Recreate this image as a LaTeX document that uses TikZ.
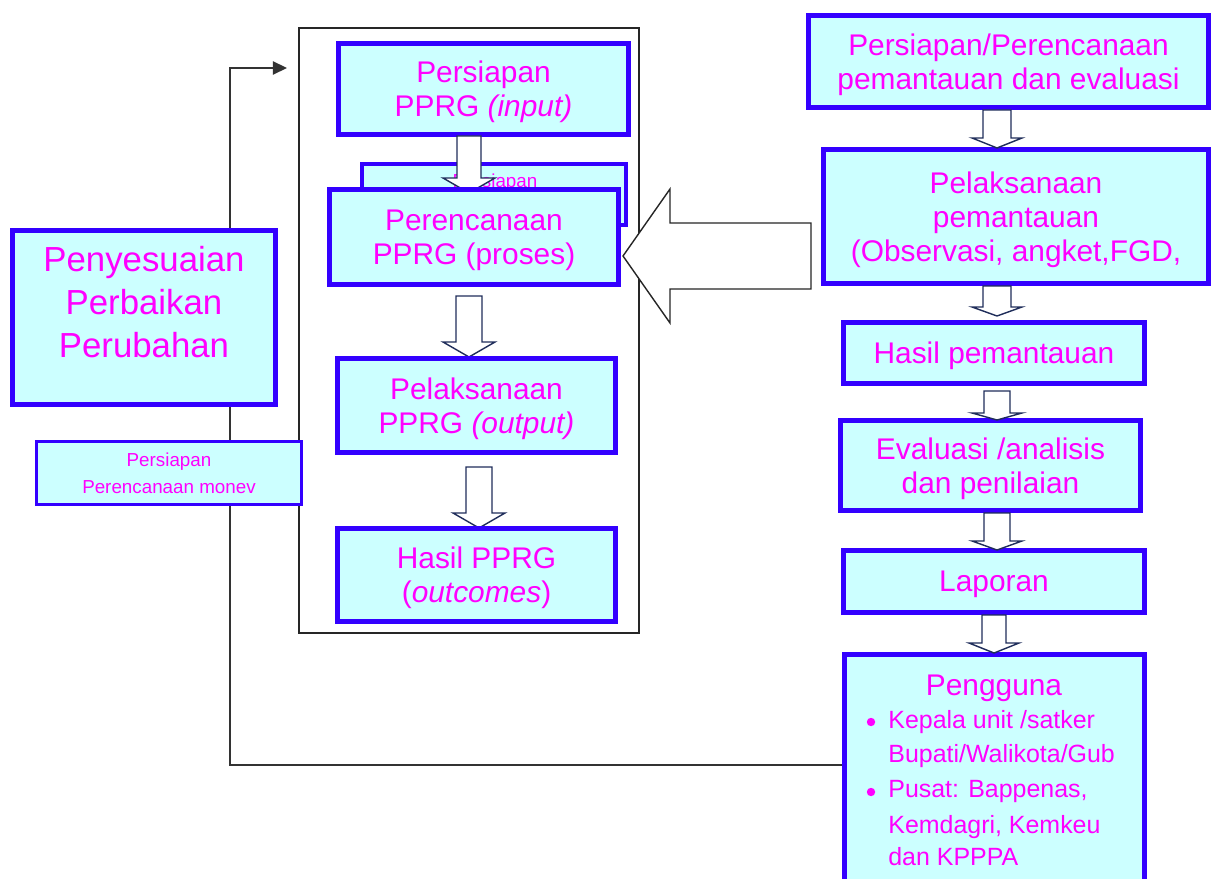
\documentclass[tikz,border=0pt]{standalone}
\usepackage{fontspec}
\setmainfont{Liberation Sans}
\usetikzlibrary{calc,arrows.meta}
\definecolor{biru}{RGB}{51,0,255}
\definecolor{isian}{RGB}{204,255,255}
\definecolor{huruf}{RGB}{255,0,255}
\definecolor{garispanah}{RGB}{31,45,90}
\tikzset{
>={Triangle[length=8pt,width=7.5pt]},
  kotak/.style={
    draw=biru, fill=isian,
    line width=2.8pt,
    text=huruf,
    align=center,
    inner sep=0pt,
    text depth=0pt,
    font=\fontsize{17}{19.3}\selectfont},
  kotakkecil/.style={kotak, line width=2pt, font=\fontsize{10.7}{15.1}\selectfont},
  ukuran/.style 2 args={minimum width=#1*0.02cm, minimum height=#2*0.02cm},
  tulisan/.style={text=huruf, inner sep=0pt},
  blok/.style={draw=garispanah, fill=white, line width=0.8pt, line join=miter},
  panahbesar/.style={draw=black!85, fill=white, line width=0.8pt, line join=miter},
  balik/.style={draw=black!80, line width=0.9pt},
  bingkai/.style={draw=black!85, line width=0.9pt},
}

\begin{document}
\begin{tikzpicture}[x=0.02cm, y=-0.02cm]
  \path[use as bounding box, clip] (0,0) rectangle (1212,878);

  %% Frame round the PPRG steps
  \draw[bingkai] (299,28) rectangle (639,633);
  \coordinate (sudut) at (230,68);
  \coordinate (masuk) at (287,68);

  %% Monitoring column
  \node[kotak, ukuran={400}{92}] (rencana) at (1008.5,61.5)
       {Persiapan/Perencanaan\\pemantauan dan evaluasi};
  \node[kotak, ukuran={385}{134}] (pelaksanaan) at (1016,216.5)
       {Pelaksanaan\\pemantauan\\(Observasi, angket,FGD,};
  \node[kotak, ukuran={301}{61}] (hasil) at (994,353) {Hasil pemantauan};
  \node[kotak, ukuran={300}{90}] (evaluasi) at (990.5,465.5)
       {Evaluasi /analisis\\dan penilaian};
  \node[kotak, ukuran={301}{62}] (laporan) at (994,581.5) {Laporan};
  \node[kotak, ukuran={300}{243}] (pengguna) at (994.5,776) {};
  \node[tulisan, anchor=base, font=\fontsize{17}{19.3}\selectfont] (judul) at (994,695) {Pengguna};
  \foreach \y/\t in {728/{Kepala unit /satker},
                     762/{Bupati/Walikota/Gub},
                     797/{Pusat: Bappenas,},
                     833/{Kemdagri, Kemkeu},
                     865/{dan KPPPA}
                     }{
    \node[tulisan, anchor=base west, font=\fontsize{14.2}{19}\selectfont] (baris-\y) at (888,\y) {\t};
  }
  \fill[huruf] (871,722) circle (4.2) (871,792) circle (4.2);

  %% Feedback line
  \draw[balik, ->] (pengguna.west |- 0,765) -| (sudut) -- (masuk);

  %% Left boxes
  \node[kotak, ukuran={263}{174}] (penyesuaian) at (144,317.5) {};
  \node[tulisan, align=center, font=\fontsize{19.8}{24.4}\selectfont] (ubah) at (144,302)
       {Penyesuaian\\Perbaikan\\Perubahan};
  \node[kotakkecil, ukuran={265}{63}] (monev) at (169,473) {Persiapan\\Perencanaan monev};

  %% PPRG steps
  \node[kotak, ukuran={290}{91}] (input) at (483.5,89) {Persiapan\\PPRG \textit{(input)}};
  \node[kotak, line width=2.3pt, ukuran={264}{61}] (salinan) at (494,194.5) {};
  \node[tulisan, anchor=base, font=\fontsize{10.7}{15.1}\selectfont] (sisa) at (495,188) {Persiapan};
  \foreach \x/\a/\b/\c/\s/\h in {469/136/178/193/12/26,
                                 469/296/342/357/13/26,
                                 479/467/513/528/13/26,
                                 997/110/138/148/14/25,
                                 997/286/307/316/14/25,
                                 997/391/413/420/13/25,
                                 997/513/541/550/13/25,
                                 994/615/643/653/12/25
                                 }{
    \draw[blok] (\x-\s,\a) -- (\x-\s,\b) -- (\x-\h,\b) -- (\x,\c)
                -- (\x+\h,\b) -- (\x+\s,\b) -- (\x+\s,\a) -- cycle;
  }
  \node[kotak, ukuran={289}{95}] (proses) at (474,237) {Perencanaan\\PPRG (proses)};
  \node[kotak, ukuran={278}{94}] (output) at (476.5,405.5) {Pelaksanaan\\PPRG \textit{(output)}};
  \node[kotak, ukuran={278}{93}] (outcomes) at (476.5,575) {Hasil PPRG\\(\textit{outcomes})};

  %% Big arrow from monitoring to planning
  \draw[panahbesar] (811,223) -- (670,223) -- (670,189) -- (623,256)
                    -- (670,323) -- (670,289) -- (811,289) -- cycle;

\end{tikzpicture}
\end{document}
